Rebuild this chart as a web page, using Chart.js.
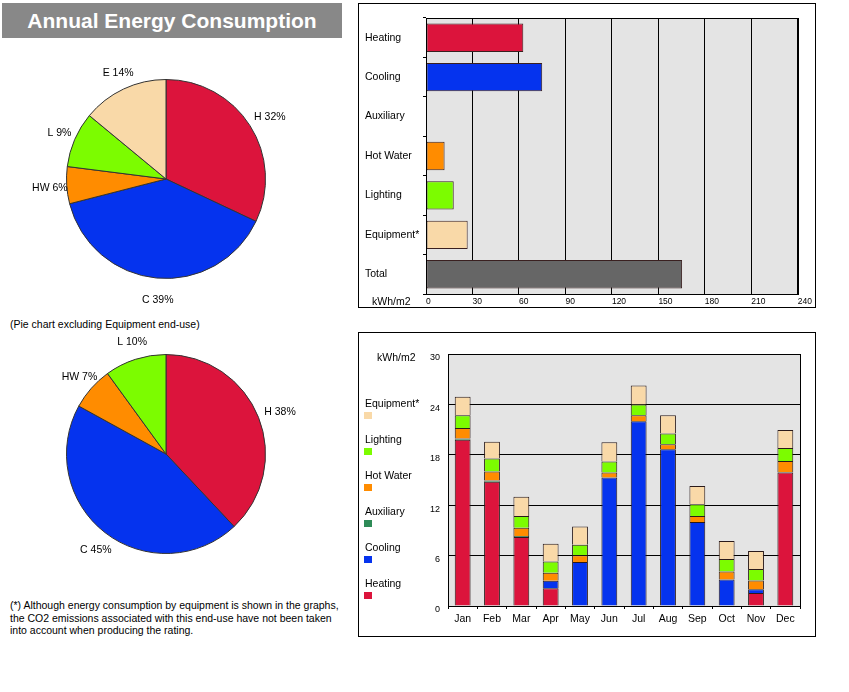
<!DOCTYPE html>
<html>
<head>
<meta charset="utf-8">
<script src="https://cdn.jsdelivr.net/npm/chart.js@4"></script>
<style>
  body { margin: 0; background: #fff; font-family: "Liberation Sans", Arial, sans-serif; }
  .abs { position: absolute; }
  .title { left: 2px; top: 3px; width: 340px; height: 35px; background: #888; color: #fff;
           font: bold 21px "Liberation Sans", Arial, sans-serif; line-height: 35px; text-align: center; }
  .note { font-size: 10.5px; color: #000; line-height: 12.5px; }
  .box { border: 1px solid #000; width: 456px; height: 303px; }
</style>
</head>
<body>
<div class="abs title">Annual Energy Consumption</div>
<canvas id="pie1" class="abs" style="left:0;top:40px" width="340" height="275"></canvas>
<div class="abs note" style="left:10px;top:318px">(Pie chart excluding Equipment end-use)</div>
<canvas id="pie2" class="abs" style="left:0;top:330px" width="340" height="250"></canvas>
<div class="abs note" style="left:10px;top:599px">(*) Although energy consumption by equipment is shown in the graphs,<br>the CO2 emissions associated with this end-use have not been taken<br>into account when producing the rating.</div>
<div class="abs box" style="left:358px;top:3px"><canvas id="annual" width="456" height="303"></canvas></div>
<div class="abs box" style="left:358px;top:332px"><canvas id="monthly" width="456" height="303"></canvas></div>

<script>
// ---- data ----
const endUses = ['Heating', 'Cooling', 'Auxiliary', 'Hot Water', 'Lighting', 'Equipment*', 'Total'];
const annualValues = [62.8, 75.0, 0.4, 12.0, 17.9, 26.9, 165.3];
const xTicks = [0, 30, 60, 90, 120, 150, 180, 210, 240];

const pie1Labels = ['H 32%', 'C 39%', 'HW 6%', 'L 9%', 'E 14%'];
const pie1Values = [32, 39, 6, 9, 14];
const pie2Labels = ['H 38%', 'C 45%', 'HW 7%', 'L 10%'];
const pie2Values = [38, 45, 7, 10];

// monthly kWh/m2, null where a segment is absent
const months = ['Jan', 'Feb', 'Mar', 'Apr', 'May', 'Jun', 'Jul', 'Aug', 'Sep', 'Oct', 'Nov', 'Dec'];
const heating   = [19.8, 14.8, 8.2, 2.1, null, null, null, null, null, null, 1.55, 15.9];
const cooling   = [null, null, null, 0.9, 5.25, 15.3, 22.0, 18.65, 10.0, 3.15, 0.45, null];
const auxiliary = [0.15, 0.15, 0.12, null, null, null, null, null, null, null, null, 0.05];
const hotWater  = [1.25, 1.05, 1.0, 0.95, 0.8, 0.6, 0.7, 0.6, 0.7, 0.95, 1.05, 1.3];
const lighting  = [1.5, 1.55, 1.4, 1.35, 1.25, 1.3, 1.3, 1.3, 1.4, 1.5, 1.35, 1.55];
const equipment = [2.2, 2.0, 2.3, 2.1, 2.15, 2.3, 2.25, 2.15, 2.2, 2.15, 2.15, 2.15];
const yTicks = [0, 6, 12, 18, 24, 30];

const colors = {
  heating: '#DC143C', cooling: '#0533EE', auxiliary: '#2E8B57',
  hotWater: '#FF8C00', lighting: '#7CFC00', equipment: '#F9D9A8', total: '#666666'
};
const FONT = '"Liberation Sans", Arial, sans-serif';
Chart.defaults.font.family = FONT;
Chart.defaults.color = '#000';
Chart.defaults.animation = false;

// plot background + frame
const plotFrame = {
  id: 'plotFrame',
  beforeDraw(chart) {
    const a = chart.chartArea, ctx = chart.ctx;
    ctx.save();
    ctx.fillStyle = '#E4E4E4';
    ctx.fillRect(a.left, a.top, a.right - a.left, a.bottom - a.top);
    ctx.restore();
  },
  afterDatasetsDraw(chart) {
    const a = chart.chartArea, ctx = chart.ctx;
    ctx.save();
    ctx.strokeStyle = '#000';
    ctx.lineWidth = 1;
    ctx.strokeRect(Math.round(a.left) + 0.5, Math.round(a.top) + 0.5, Math.round(a.right - a.left), Math.round(a.bottom - a.top));
    ctx.restore();
  }
};

// outside labels for pies, placed from the arc geometry
const pieLabels = {
  id: 'pieLabels',
  afterDraw(chart, args, opts) {
    const ctx = chart.ctx;
    const meta = chart.getDatasetMeta(0);
    ctx.save();
    ctx.font = '10.5px ' + FONT;
    ctx.fillStyle = '#000';
    ctx.textAlign = 'center';
    ctx.textBaseline = 'middle';
    meta.data.forEach((arc, i) => {
      const mid = (arc.startAngle + arc.endAngle) / 2;
      const r = arc.outerRadius * opts.factor;
      ctx.fillText(chart.data.labels[i], arc.x + Math.cos(mid) * r + 3, arc.y + Math.sin(mid) * r + 2);
    });
    ctx.restore();
  }
};

function makePie(id, labels, values, bg, padding) {
  return new Chart(document.getElementById(id), {
    type: 'pie',
    data: { labels, datasets: [{ data: values, backgroundColor: bg, borderColor: '#333', borderWidth: 1 }] },
    options: {
      responsive: false,
      layout: { padding },
      plugins: { legend: { display: false }, tooltip: { enabled: false }, pieLabels: { factor: 1.2 } }
    },
    plugins: [pieLabels]
  });
}

makePie('pie1', pie1Labels, pie1Values,
  [colors.heating, colors.cooling, colors.hotWater, colors.lighting, colors.equipment],
  { left: 66, right: 74, top: 39, bottom: 36 });
makePie('pie2', pie2Labels, pie2Values,
  [colors.heating, colors.cooling, colors.hotWater, colors.lighting],
  { left: 66, right: 74, top: 24, bottom: 26 });

// ---- annual horizontal bars ----
const unitLabel = (x, y) => ({
  id: 'unitLabel',
  afterDraw(chart) {
    const ctx = chart.ctx;
    ctx.save();
    ctx.font = '10.5px ' + FONT;
    ctx.fillStyle = '#000';
    ctx.textBaseline = 'middle';
    ctx.fillText('kWh/m2', x, y);
    ctx.restore();
  }
});

new Chart(document.getElementById('annual'), {
  type: 'bar',
  data: {
    labels: endUses,
    datasets: [{
      data: annualValues,
      backgroundColor: [colors.heating, colors.cooling, colors.auxiliary, colors.hotWater, colors.lighting, colors.equipment, colors.total],
      borderColor: '#3a2020', borderWidth: 1, borderSkipped: false,
      barPercentage: 0.72, categoryPercentage: 1
    }]
  },
  options: {
    responsive: false,
    indexAxis: 'y',
    layout: { padding: { left: 6, right: 15, top: 14, bottom: 0 } },
    plugins: { legend: { display: false }, tooltip: { enabled: false } },
    scales: {
      x: {
        min: 0, max: 240,
        afterBuildTicks: s => { s.ticks = xTicks.map(v => ({ value: v })); },
        afterFit: s => { s.height = 13; },
        grid: { color: '#000', drawTicks: false },
        border: { display: false },
        ticks: { align: 'start', padding: 3, font: { size: 8.5 } }
      },
      y: {
        afterFit: s => { s.width = 61; },
        grid: { drawOnChartArea: false, color: '#000', tickLength: 3, offset: true },
        border: { display: false },
        ticks: { crossAlign: 'far', font: { size: 10.5 } }
      }
    }
  },
  plugins: [plotFrame, unitLabel(13, 298)]
});

// ---- monthly stacked bars ----
const monthlySeries = [
  { label: 'Heating', data: heating, color: colors.heating },
  { label: 'Cooling', data: cooling, color: colors.cooling },
  { label: 'Auxiliary', data: auxiliary, color: colors.auxiliary },
  { label: 'Hot Water', data: hotWater, color: colors.hotWater },
  { label: 'Lighting', data: lighting, color: colors.lighting },
  { label: 'Equipment*', data: equipment, color: colors.equipment }
];

const sideLegend = {
  id: 'sideLegend',
  afterDraw(chart) {
    const ctx = chart.ctx;
    const ds = chart.data.datasets.slice().reverse();
    ctx.save();
    ctx.font = '10.5px ' + FONT;
    ctx.textBaseline = 'middle';
    ds.forEach((d, i) => {
      const y = 71 + i * 36;
      ctx.fillStyle = '#000';
      ctx.fillText(d.label, 6, y);
      ctx.fillStyle = d.backgroundColor;
      ctx.fillRect(5, y + 8, 8, 7);
    });
    ctx.restore();
  }
};

new Chart(document.getElementById('monthly'), {
  type: 'bar',
  data: {
    labels: months,
    datasets: monthlySeries.map(s => ({
      label: s.label, data: s.data, backgroundColor: s.color,
      borderColor: '#2a1a1a', borderWidth: 1, borderSkipped: 'start',
      barPercentage: 0.54, categoryPercentage: 1
    }))
  },
  options: {
    responsive: false,
    layout: { padding: { left: 0, right: 15, top: 21, bottom: 0 } },
    plugins: { legend: { display: false }, tooltip: { enabled: false } },
    scales: {
      x: {
        stacked: true,
        afterFit: s => { s.height = 30; },
        grid: { drawOnChartArea: false, color: '#000', tickLength: 3, offset: true },
        border: { display: false },
        ticks: { padding: 4, font: { size: 10.5 } }
      },
      y: {
        stacked: true, min: 0, max: 30,
        afterBuildTicks: s => { s.ticks = yTicks.map(v => ({ value: v })); },
        afterFit: s => { s.width = 89; },
        grid: { color: '#000', drawTicks: false },
        border: { display: false },
        ticks: { padding: 8, labelOffset: 4, font: { size: 9 } }
      }
    }
  },
  plugins: [plotFrame, unitLabel(18, 25), sideLegend]
});
</script>
</body>
</html>
